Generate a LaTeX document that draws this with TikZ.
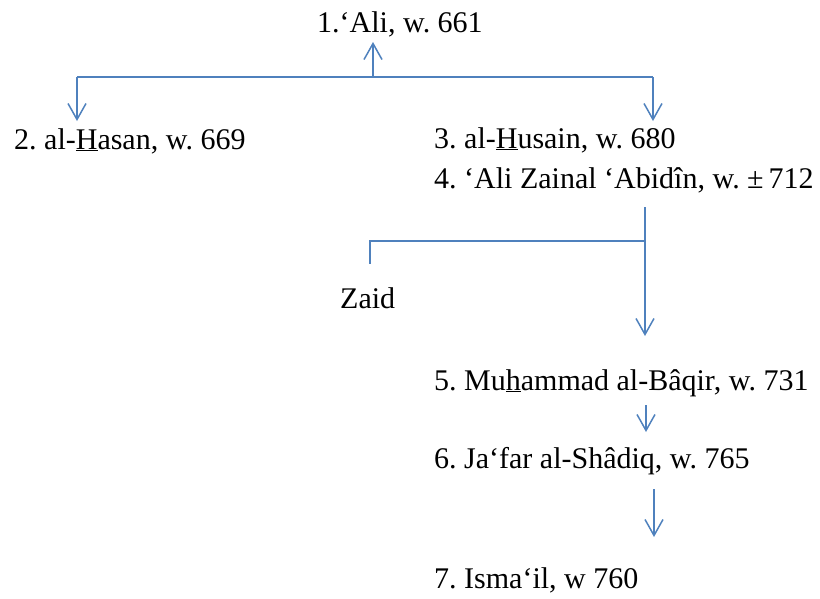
\documentclass[tikz,border=0pt]{standalone}
\usepackage{fontspec}
\setmainfont{Liberation Serif}
\usetikzlibrary{arrows.meta}
\definecolor{lineblue}{HTML}{4F81BD}
\frenchspacing

\begin{document}
\begin{tikzpicture}[x=1pt, y=-1pt,
    imam/.style={anchor=base west, inner sep=0pt, font=\fontsize{30}{36}\selectfont},
    link/.style={lineblue, line width=1.5pt},
    arr/.style={link, -{Straight Barb[length=16pt, width=18pt]}}]
    \useasboundingbox (0,0) rectangle (820,598);

    % Nama-nama
    \node[imam] (a1) at (317,32) {1.‘Ali, w. 661};
    \node[imam] (a2) at (14,149) {2. al-\underline{H}asan, w. 669};
    \node[imam] (a3) at (434,148) {3. al-\underline{H}usain, w. 680};
    \node[imam] (a4) at (434,188) {4. ‘Ali Zainal ‘Abidîn, w. ±\,712};
    \node[imam] (zaid) at (340,308) {Zaid};
    \node[imam] (a5) at (434,390) {5. Mu\underline{h}ammad al-Bâqir, w. 731};
    \node[imam] (a6) at (434,468) {6. Ja‘far al-Shâdiq, w. 765};
    \node[imam] (a7) at (434,588) {7. Isma‘il, w 760};

    % Titik cabang
    \coordinate (top) at (373,77);
    \coordinate (left) at (77,77);
    \coordinate (right) at (653,77);
    \coordinate (down4) at (645,207);
    \coordinate (fork4) at (645,241);
    \coordinate (zaidtop) at (370,264);

    % Garis / panah
    \draw[arr] (top) -- (373,42);
    \draw[link] (left) -- (right);
    \draw[arr] (left) -- (77,121);
    \draw[arr] (right) -- (653,121);
    \draw[arr] (down4) -- (645,336);
    \draw[link] (fork4) -- (370,241) -- (zaidtop);
    \draw[arr] (646,405) -- (646,432);
    \draw[arr] (654,489) -- (654,537);
\end{tikzpicture}
\end{document}
